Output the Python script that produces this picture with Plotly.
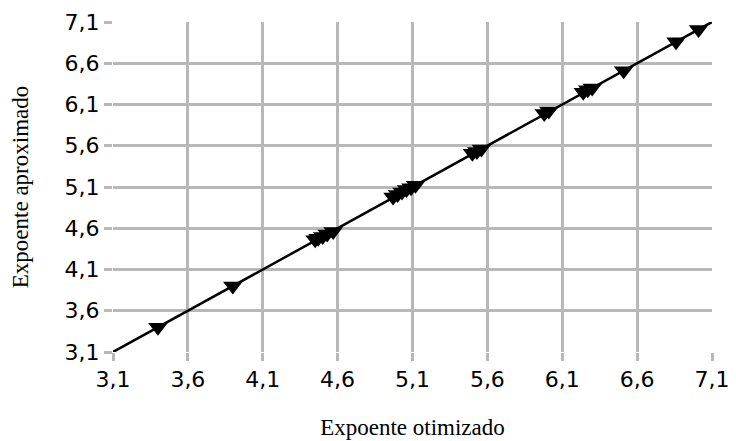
import plotly.graph_objects as go

# Data
x_opt = [3.40, 3.90, 4.45, 4.47, 4.50, 4.53, 4.57, 4.97, 5.00, 5.03, 5.06, 5.09, 5.12,
         5.50, 5.53, 5.56, 5.98, 6.01, 6.24, 6.27, 6.30, 6.51, 6.86, 7.01]
y_aprox = [3.40, 3.90, 4.46, 4.48, 4.50, 4.53, 4.56, 4.98, 5.01, 5.04, 5.07, 5.09, 5.12,
           5.51, 5.53, 5.56, 5.99, 6.02, 6.25, 6.28, 6.30, 6.51, 6.86, 7.01]
line_x = [3.1, 7.1]
line_y = [3.1, 7.1]
ticks = [3.1, 3.6, 4.1, 4.6, 5.1, 5.6, 6.1, 6.6, 7.1]

fig = go.Figure()
fig.add_trace(go.Scatter(x=line_x, y=line_y, mode="lines",
                         line=dict(color="black", width=2.5), showlegend=False))
fig.add_trace(go.Scatter(x=x_opt, y=y_aprox, mode="markers",
                         marker=dict(symbol="triangle-down", size=17, color="black"),
                         showlegend=False))

axis_common = dict(
    range=[3.1, 7.1], tickvals=ticks, tickformat=".1f",
    showgrid=True, gridcolor="#b8b8b8", gridwidth=3,
    ticks="outside", ticklen=8, tickwidth=3, tickcolor="#b8b8b8",
    zeroline=False, showline=False, automargin=False,
    tickfont=dict(family="DejaVu Sans", size=22, color="black"),
)

# page body has an 8px default margin, so the figure is 8px smaller each way
fig.update_layout(
    width=728, height=433,
    margin=dict(l=105, r=24, t=14, b=89),
    paper_bgcolor="white", plot_bgcolor="white",
    separators=", ",
    xaxis=dict(**axis_common,
               title=dict(text="Expoente otimizado",
                          font=dict(family="Liberation Serif", size=23, color="black"),
                          standoff=27)),
    yaxis=dict(**axis_common,
               title=dict(text="Expoente aproximado",
                          font=dict(family="Liberation Serif", size=23, color="black"),
                          standoff=32)),
)

fig.write_html("out.html")
